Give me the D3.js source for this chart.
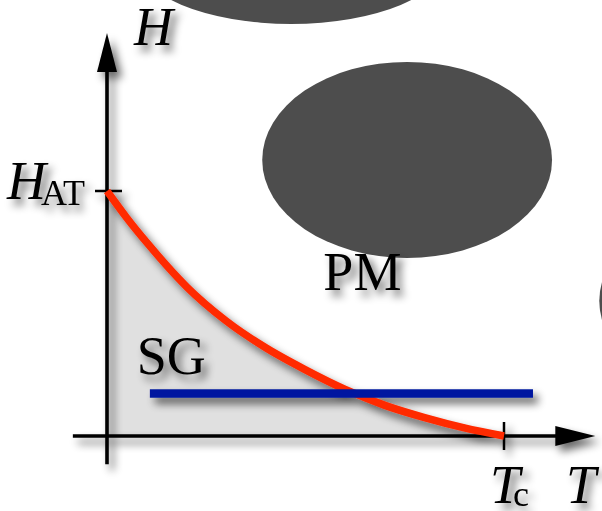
<!DOCTYPE html>
<html>
<head>
<meta charset="utf-8">
<script src="https://cdn.jsdelivr.net/npm/d3@7"></script>
<style>
  html, body { margin: 0; padding: 0; background: #fff; }
  svg { display: block; }
  text { font-family: "Liberation Serif", "DejaVu Serif", serif; fill: #000; }
</style>
</head>
<body>
<svg id="chart" width="602" height="511"></svg>
<script>
// Reduced temperature T/Tc and reduced field H/H_AT along the AT line
const atLineT = [0, 0.05, 0.1, 0.2, 0.3, 0.4, 0.5, 0.6, 0.7, 0.8, 0.9, 1.0];
const atLineH = [1.0, 0.89, 0.79, 0.61, 0.47, 0.36, 0.27, 0.19, 0.125, 0.075, 0.033, 0.0];

// Horizontal sweep at constant field
const sweepT = [0.108, 1.073];
const sweepH = [0.173, 0.173];

// Axis extents (reduced units)
const axisT = [-0.086, 1.23];
const axisH = [-0.115, 1.645];

// Tick labels
const tickTc = 1.0;
const tickHat = 1.0;

// Phase labels
const phaseLabels = [
  { text: "PM", T: 0.545, H: 0.595 },
  { text: "SG", T: 0.075, H: 0.253 }
];

// Decorative blobs in the background (reduced units, radii in reduced units)
const blobs = [
  { T: 0.464, H: 1.947, rT: 0.39, rH: 0.265 },
  { T: 0.756, H: 1.127, rT: 0.365, rH: 0.4 },
  { T: 1.605, H: 0.551, rT: 0.365, rH: 0.4 }
];

const svg = d3.select("#chart");
const x = d3.scaleLinear().domain([0, 1]).range([107, 504]);
const y = d3.scaleLinear().domain([0, 1]).range([436, 191]);

// Drop shadow filter
const defs = svg.append("defs");
const f = defs.append("filter").attr("id", "shadow")
  .attr("x", "-30%").attr("y", "-30%").attr("width", "160%").attr("height", "160%");
f.append("feGaussianBlur").attr("in", "SourceAlpha").attr("stdDeviation", 4).attr("result", "b");
f.append("feOffset").attr("in", "b").attr("dx", 5).attr("dy", 6).attr("result", "o");
f.append("feComponentTransfer").attr("in", "o").attr("result", "s")
  .append("feFuncA").attr("type", "linear").attr("slope", 0.6);
const m = f.append("feMerge");
m.append("feMergeNode").attr("in", "s");
m.append("feMergeNode").attr("in", "SourceGraphic");

// Background blobs
svg.append("g").selectAll("ellipse").data(blobs).join("ellipse")
  .attr("cx", d => x(d.T)).attr("cy", d => y(d.H))
  .attr("rx", d => x(d.rT) - x(0)).attr("ry", d => y(0) - y(d.rH))
  .attr("fill", "#4d4d4d");

const pts = atLineT.map((t, i) => [t, atLineH[i]]);

// Spin-glass region under the AT line
const area = d3.area().x(d => x(d[0])).y0(y(0)).y1(d => y(d[1])).curve(d3.curveMonotoneX);
svg.append("path").datum(pts).attr("d", area).attr("fill", "#e0e0e0");

const g = svg.append("g").attr("filter", "url(#shadow)");

// Axes
const axW = 3.6;
g.append("line").attr("x1", x(axisT[0])).attr("x2", x(axisT[1]) - 30)
  .attr("y1", y(0)).attr("y2", y(0)).attr("stroke", "#000").attr("stroke-width", axW);
g.append("line").attr("x1", x(0)).attr("x2", x(0))
  .attr("y1", y(axisH[0])).attr("y2", y(axisH[1]) + 30).attr("stroke", "#000").attr("stroke-width", axW);
// Arrowheads
const xt = x(axisT[1]), yt = y(axisH[1]);
g.append("path").attr("d", `M${xt},${y(0)} L${xt - 40},${y(0) - 10} L${xt - 40},${y(0) + 10} Z`).attr("fill", "#000");
g.append("path").attr("d", `M${x(0)},${yt} L${x(0) - 10},${yt + 39} L${x(0) + 10},${yt + 39} Z`).attr("fill", "#000");
// Ticks
g.append("line").attr("x1", x(0) - 12).attr("x2", x(0) + 15).attr("y1", y(tickHat)).attr("y2", y(tickHat))
  .attr("stroke", "#000").attr("stroke-width", 2.5);
g.append("line").attr("x1", x(tickTc)).attr("x2", x(tickTc)).attr("y1", y(0) - 14).attr("y2", y(0) + 14)
  .attr("stroke", "#000").attr("stroke-width", 2.5);

// AT line
const line = d3.line().x(d => x(d[0])).y(d => y(d[1])).curve(d3.curveMonotoneX);
g.append("path").datum(pts).attr("d", line).attr("fill", "none")
  .attr("stroke", "#ff2a00").attr("stroke-width", 7.5);

// Field sweep
g.append("line").attr("x1", x(sweepT[0])).attr("x2", x(sweepT[1]))
  .attr("y1", y(sweepH[0])).attr("y2", y(sweepH[1]))
  .attr("stroke", "#0019a0").attr("stroke-width", 8.5);

// Labels
const fs = 54, sub = 36;
g.append("text").attr("x", 134).attr("y", 45).attr("font-size", fs).attr("font-style", "italic").text("H");
const hat = g.append("text").attr("x", 7).attr("y", 199).attr("font-size", fs);
hat.append("tspan").attr("font-style", "italic").text("H");
hat.append("tspan").attr("font-size", sub).attr("dy", 6).attr("dx", -5).text("AT");
const tc = g.append("text").attr("x", 490).attr("y", 503).attr("font-size", fs);
tc.append("tspan").attr("font-style", "italic").text("T");
tc.append("tspan").attr("font-size", sub).attr("dy", 3).attr("dx", -7).text("c");
g.append("text").attr("x", 566).attr("y", 503).attr("font-size", fs).attr("font-style", "italic").text("T");
g.selectAll("text.phase").data(phaseLabels).join("text").attr("class", "phase")
  .attr("x", d => x(d.T)).attr("y", d => y(d.H)).attr("font-size", fs).text(d => d.text);
</script>
</body>
</html>
